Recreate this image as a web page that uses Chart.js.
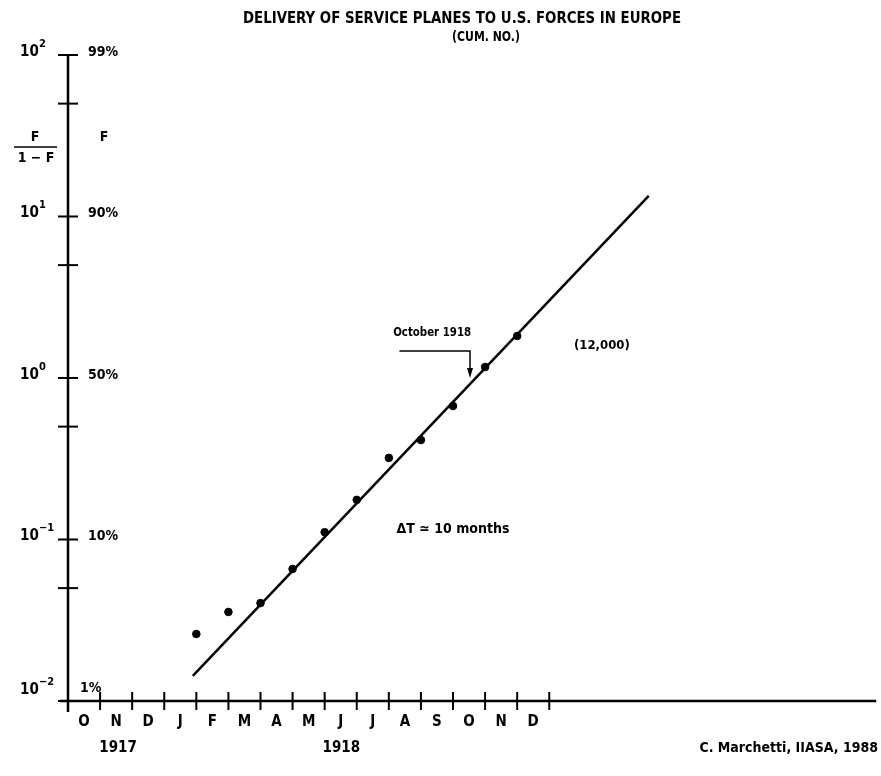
<!DOCTYPE html>
<html>
<head>
<meta charset="utf-8">
<title>Delivery of service planes</title>
<script src="https://cdn.jsdelivr.net/npm/chart.js@4.4.1/dist/chart.umd.min.js"></script>
<style>
  html, body { margin: 0; padding: 0; background: #fff; }
  #chart { display: block; }
</style>
</head>
<body>
<canvas id="chart" width="881" height="776"></canvas>
<script>
// x = months since 1 Oct 1917, y = F/(1-F)
const monthLabels = ['O', 'N', 'D', 'J', 'F', 'M', 'A', 'M', 'J', 'J', 'A', 'S', 'O', 'N', 'D'];
const yearLabels = ['1917', '1918'];
const yearPos = [1.56, 8.52];

// cumulative deliveries, end of each month Jan..Nov 1918
const deliveryMonths = [4, 5, 6, 7, 8, 9, 10, 11, 12, 13, 14];
const deliveryRatio = [0.026, 0.0356, 0.0404, 0.0657, 0.111, 0.176, 0.320, 0.413, 0.671, 1.17, 1.82];

// fitted logistic (straight line on this scale)
const fitMonths = [3.89, 18.10];
const fitRatio = [0.0143, 13.4];

const yTicks = [0.01, 0.05, 0.1, 0.5, 1, 5, 10, 50, 100];
const yDecades = [0.01, 0.1, 1, 10, 100];
const yExp = ['\u22122', '\u22121', '0', '1', '2'];
const yPct = ['1%', '10%', '50%', '90%', '99%'];

const FONT = '"Liberation Sans Narrow", "DejaVu Sans Condensed", "Liberation Sans", sans-serif';

function txt(ctx, s, x, y, size, align, maxW) {
    ctx.font = 'bold ' + size + 'px ' + FONT;
    ctx.textAlign = align || 'left';
    ctx.textBaseline = 'middle';
    if (maxW) ctx.fillText(s, x, y, maxW); else ctx.fillText(s, x, y);
}

const paperPlugin = {
    id: 'paper',
    afterDraw(chart) {
        const ctx = chart.ctx;
        const xs = chart.scales.x, ys = chart.scales.y;
        const a = chart.chartArea;
        ctx.save();
        ctx.fillStyle = '#000';
        ctx.strokeStyle = '#000';

        // axes
        ctx.lineWidth = 2.5;
        ctx.beginPath();
        ctx.moveTo(a.left, a.top);
        ctx.lineTo(a.left, a.bottom + 11);
        ctx.moveTo(a.left - 8, a.bottom);
        ctx.lineTo(a.right, a.bottom);
        ctx.stroke();

        // y ticks
        ctx.lineWidth = 2;
        yTicks.forEach(v => {
            const py = ys.getPixelForValue(v);
            ctx.beginPath();
            ctx.moveTo(a.left - 10, py);
            ctx.lineTo(a.left + 10, py);
            ctx.stroke();
        });

        // y labels
        yDecades.forEach((v, i) => {
            const py = ys.getPixelForValue(v) - (i === 0 ? 11 : 3);
            txt(ctx, '10', 20, py, 15, 'left');
            txt(ctx, yExp[i], 39, py - 8, 11, 'left');
            txt(ctx, yPct[i], i === 0 ? 80 : 88, i === 0 ? py - 2 : py, 14, 'left');
        });

        // F/(1-F) and F
        txt(ctx, 'F', 35, 137, 14, 'center');
        ctx.lineWidth = 1.5;
        ctx.beginPath();
        ctx.moveTo(14, 147);
        ctx.lineTo(57, 147);
        ctx.stroke();
        txt(ctx, '1 \u2212 F', 36, 158, 14, 'center');
        txt(ctx, 'F', 104, 137, 14, 'center');

        // x ticks (month boundaries)
        ctx.lineWidth = 2;
        for (let m = 1; m <= monthLabels.length; m++) {
            const px = xs.getPixelForValue(m);
            ctx.beginPath();
            ctx.moveTo(px, a.bottom - 9);
            ctx.lineTo(px, a.bottom + 9);
            ctx.stroke();
        }
        monthLabels.forEach((l, i) => {
            txt(ctx, l, xs.getPixelForValue(i + 0.5), 722, 15, 'center');
        });
        yearLabels.forEach((l, i) => {
            txt(ctx, l, xs.getPixelForValue(yearPos[i]), 748, 15, 'center');
        });

        // title
        txt(ctx, 'DELIVERY OF SERVICE PLANES TO U.S. FORCES IN EUROPE', 462, 19, 15, 'center', 438);
        txt(ctx, '(CUM. NO.)', 486, 37, 14, 'center', 68);

        // annotations
        const ax = xs.getPixelForValue(12.53), ay = ys.getPixelForValue(1.0);
        const hx = xs.getPixelForValue(10.33), hy = ys.getPixelForValue(1.47);
        ctx.lineWidth = 1.5;
        ctx.beginPath();
        ctx.moveTo(hx, hy);
        ctx.lineTo(ax, hy);
        ctx.lineTo(ax, ay - 6);
        ctx.stroke();
        ctx.beginPath();
        ctx.moveTo(ax - 3, ay - 10);
        ctx.lineTo(ax + 3, ay - 10);
        ctx.lineTo(ax, ay);
        ctx.closePath();
        ctx.fill();
        txt(ctx, 'October 1918', xs.getPixelForValue(11.35), ys.getPixelForValue(1.9), 13, 'center', 78);
        txt(ctx, '(12,000)', xs.getPixelForValue(16.64), ys.getPixelForValue(1.58), 13, 'center', 62);
        txt(ctx, '\u0394T \u2243 10 months', xs.getPixelForValue(12.0), ys.getPixelForValue(0.116), 14, 'center', 128);

        // credit
        txt(ctx, 'C. Marchetti, IIASA, 1988', 878, 748, 14, 'right', 200);
        ctx.restore();
    }
};

new Chart(document.getElementById('chart'), {
    type: 'scatter',
    data: {
        datasets: [
            {
                label: 'Deliveries',
                data: deliveryMonths.map((m, i) => ({ x: m, y: deliveryRatio[i] })),
                backgroundColor: '#000',
                borderColor: '#000',
                pointRadius: 3.8,
                pointHoverRadius: 3.8
            },
            {
                type: 'line',
                label: 'Logistic fit',
                data: fitMonths.map((m, i) => ({ x: m, y: fitRatio[i] })),
                borderColor: '#000',
                borderWidth: 2.5,
                pointRadius: 0,
                fill: false
            }
        ]
    },
    options: {
        responsive: false,
        animation: false,
        devicePixelRatio: 1,
        layout: { padding: { left: 68, right: 3, top: 55, bottom: 75 } },
        plugins: { legend: { display: false }, tooltip: { enabled: false } },
        scales: {
            x: { type: 'linear', display: false, min: 0, max: 25.19 },
            y: { type: 'logarithmic', display: false, min: 0.01, max: 100 }
        }
    },
    plugins: [paperPlugin]
});
</script>
</body>
</html>
